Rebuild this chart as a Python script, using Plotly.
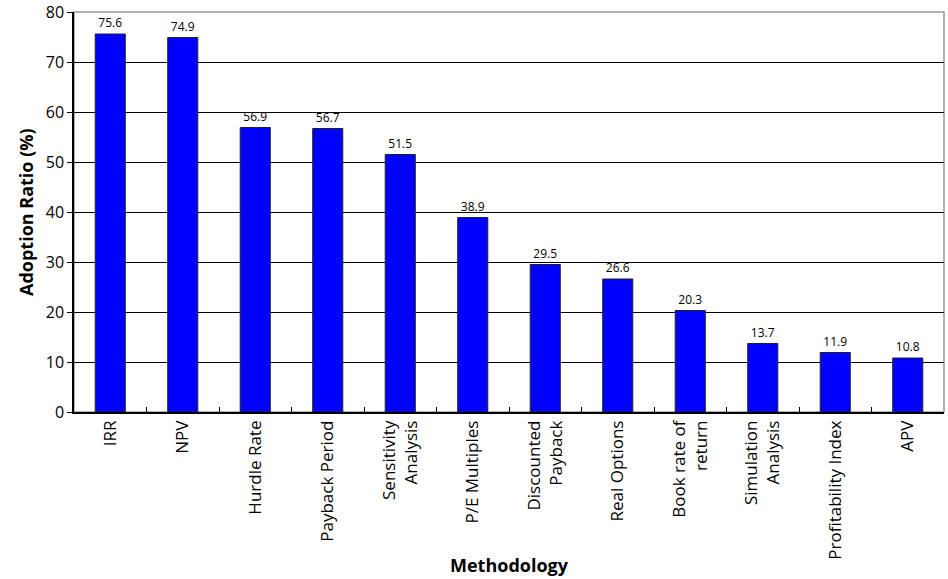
import plotly.graph_objects as go

methods = ['IRR', 'NPV', 'Hurdle Rate', 'Payback Period', 'Sensitivity<br>Analysis',
           'P/E Multiples', 'Discounted<br>Payback', 'Real Options', 'Book rate of<br>return',
           'Simulation<br>Analysis', 'Profitability Index', 'APV']
adoption = [75.6, 74.9, 56.9, 56.7, 51.5, 38.9, 29.5, 26.6, 20.3, 13.7, 11.9, 10.8]
value_labels = ['%.1f' % v for v in adoption]

fig = go.Figure(go.Bar(
    x=methods,
    y=adoption,
    text=value_labels,
    textposition='outside',
    textfont=dict(size=12, color='black'),
    cliponaxis=False,
    marker=dict(color='#0000ff', line=dict(color='#222222', width=1)),
))

fig.update_layout(
    width=948, height=579,
    font=dict(family='Open Sans', size=16, color='black'),
    margin=dict(l=74, r=4, t=12, b=167),
    paper_bgcolor='white',
    plot_bgcolor='white',
    bargap=0.585,
    showlegend=False,
    shapes=[dict(type='rect', xref='paper', yref='paper', x0=0, x1=1, y0=0, y1=1,
                 line=dict(color='#999999', width=1.5), layer='below')],
    annotations=[
        dict(text='<b>Methodology</b>', xref='paper', yref='paper', x=0.5, y=0,
             yanchor='middle', yshift=-153, showarrow=False, font=dict(size=18)),
        dict(text='<b>Adoption Ratio (%)</b>', xref='paper', yref='paper', x=0, y=0.5,
             xanchor='center', xshift=-48, textangle=-90, showarrow=False,
             font=dict(size=18)),
    ],
)

fig.update_xaxes(
    automargin=False,
    tickangle=-90,
    tickfont=dict(size=17),
    showline=True, linecolor='black', linewidth=1.5,
    ticks='inside', ticklen=5, tickcolor='black',
    tickson='boundaries',
    showgrid=False,
)
fig.update_yaxes(
    automargin=False,
    range=[0, 80], dtick=10,
    showline=True, linecolor='black', linewidth=1.5,
    ticks='outside', ticklen=5, tickcolor='black',
    showgrid=True, gridcolor='black', gridwidth=1,
    zeroline=False,
)

# drop the browser's default 8px body margin so the figure sits at (0, 0)
fig.write_html('out.html', config={'displayModeBar': False},
               post_script="document.body.style.margin='0';")
